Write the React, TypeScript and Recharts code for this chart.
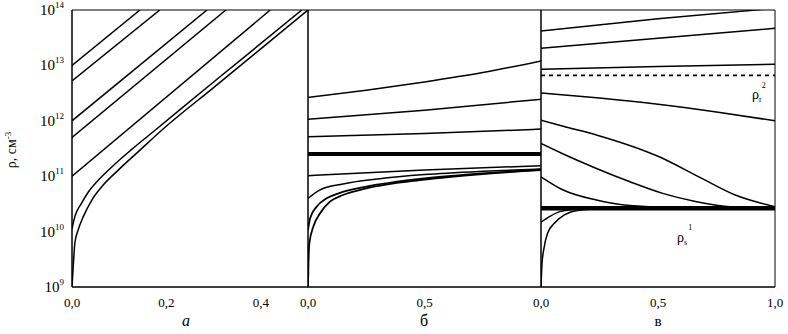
import { LineChart, Line, XAxis, YAxis, ReferenceArea } from 'recharts';

type Pt = [number, number];

const font = '"Liberation Serif", "DejaVu Serif", serif';

// y values are lg(ρ), ρ in см^-3
const yTicks = [9, 10, 11, 12, 13, 14];

// panel а, x 0..0.5
const aTicksX = [0, 0.2, 0.4];
const a1: Pt[] = [[0, 13], [0.144, 14]];
const a2: Pt[] = [[0, 12.72], [0.186, 14]];
const a3: Pt[] = [[0, 12.0], [0.286, 14]];
const a4: Pt[] = [[0, 11.7], [0.326, 14]];
const a5: Pt[] = [[0, 11.0], [0.42, 14]];
const aUpper: Pt[] = [
  [0, 10.05], [0.006, 10.27], [0.02, 10.51], [0.035, 10.72], [0.056, 10.93],
  [0.091, 11.22], [0.126, 11.48], [0.176, 11.83], [0.3, 12.7], [0.487, 14],
];
const aLower: Pt[] = [
  [0, 9], [0.003, 9.43], [0.006, 9.79], [0.013, 10.03], [0.024, 10.27],
  [0.042, 10.57], [0.063, 10.81], [0.098, 11.11], [0.14, 11.44], [0.19, 11.83],
  [0.3, 12.6], [0.5, 14],
];

// panel б, x 0..1
const bTicksX = [0, 0.5];
const b1: Pt[] = [[0, 12.42], [0.25, 12.55], [0.5, 12.7], [0.75, 12.87], [1, 13.08]];
const b2: Pt[] = [[0, 12.03], [0.5, 12.19], [1, 12.39]];
const b3: Pt[] = [[0, 11.71], [0.5, 11.77], [1, 11.85]];
const bThick: Pt[] = [[0, 11.4], [1, 11.4]];
const b4: Pt[] = [[0, 11.01], [0.5, 11.11], [1, 11.19]];
const b5: Pt[] = [[0, 10.6], [0.05, 10.75], [0.15, 10.86], [0.3, 10.95], [0.5, 11.03], [0.75, 11.09], [1, 11.13]];
const b6: Pt[] = [
  [0, 10.03], [0.009, 10.24], [0.037, 10.45], [0.08, 10.6], [0.137, 10.7],
  [0.25, 10.81], [0.5, 10.96], [0.75, 11.05], [1, 11.12],
];
const b7: Pt[] = [
  [0, 9], [0.002, 9.43], [0.006, 9.79], [0.023, 10.09], [0.052, 10.33], [0.094, 10.54],
  [0.15, 10.66], [0.25, 10.78], [0.5, 10.94], [0.75, 11.04], [1, 11.11],
];

// panel в, x 0..1
const cTicksX = [0, 0.5, 1];
const c1: Pt[] = [[0, 13.62], [0.5, 13.84], [1, 14.03]];
const c2: Pt[] = [[0, 13.31], [0.5, 13.49], [1, 13.67]];
const c3: Pt[] = [[0, 12.93], [0.5, 12.98], [1, 13.02]];
const cDotted: Pt[] = [[0, 12.82], [1, 12.82]];
const c4: Pt[] = [[0, 12.5], [0.25, 12.41], [0.5, 12.3], [0.75, 12.16], [1, 12.0]];
const c5: Pt[] = [[0, 12.01], [0.095, 11.9], [0.24, 11.74], [0.505, 11.35], [0.687, 10.96], [0.83, 10.66], [1, 10.45]];
const c6: Pt[] = [[0, 11.59], [0.095, 11.4], [0.237, 11.14], [0.38, 10.9], [0.52, 10.69], [0.665, 10.54], [0.81, 10.45], [1, 10.43]];
const c7: Pt[] = [[0, 10.99], [0.095, 10.75], [0.237, 10.57], [0.38, 10.47], [0.6, 10.43], [1, 10.42]];
const cThick: Pt[] = [[0, 10.42], [1, 10.42]];
const c8: Pt[] = [[0, 10.17], [0.04, 10.28], [0.08, 10.36], [0.14, 10.4], [0.25, 10.42]];
const c9: Pt[] = [[0, 9], [0.004, 9.4], [0.014, 9.73], [0.028, 9.97], [0.057, 10.15], [0.1, 10.3], [0.17, 10.39], [0.3, 10.42]];

type Series = { pts: Pt[]; w?: number; curve?: boolean; dash?: string };

const aSeries: Series[] = [
  { pts: a1 }, { pts: a2 }, { pts: a3 }, { pts: a4 }, { pts: a5 },
  { pts: aUpper, curve: true }, { pts: aLower, curve: true },
];
const bSeries: Series[] = [
  { pts: b1, curve: true }, { pts: b2, curve: true }, { pts: b3, curve: true },
  { pts: bThick, w: 4 }, { pts: b4, curve: true }, { pts: b5, curve: true },
  { pts: b6, curve: true, w: 1.8 }, { pts: b7, curve: true, w: 1.8 },
];
const cSeries: Series[] = [
  { pts: c1, curve: true }, { pts: c2, curve: true }, { pts: c3, curve: true },
  { pts: cDotted, w: 1.6, dash: '4 4' }, { pts: c4, curve: true }, { pts: c5, curve: true },
  { pts: c6, curve: true }, { pts: c7, curve: true }, { pts: cThick, w: 4.5 },
  { pts: c8, curve: true }, { pts: c9, curve: true },
];

const toData = (pts: Pt[]) => pts.map(([x, y]) => ({ x, y }));
const fmt = (v: number) => v.toFixed(1).replace('.', ',');

const PowerTick = (props: any) => {
  const { x, y, payload } = props;
  return (
    <text x={x} y={y + 5} textAnchor="end" fontFamily={font} fontSize={15} fill="#000">
      10
      <tspan dy={-7} fontSize={9}>{payload.value}</tspan>
    </text>
  );
};

const Blank = () => <g />;

function Panel({ left, width, marginLeft, marginRight, domain, ticks, series, labelled }: {
  left: number; width: number; marginLeft: number; marginRight: number;
  domain: [number, number]; ticks: number[]; series: Series[]; labelled?: boolean;
}) {
  return (
    <div style={{ position: 'absolute', left, top: 0 }}>
      <LineChart width={width} height={334} margin={{ top: 10, right: marginRight, bottom: 17, left: marginLeft }}>
        <XAxis
          type="number"
          dataKey="x"
          domain={domain}
          ticks={ticks}
          interval={0}
          allowDataOverflow
          height={30}
          tickLine={false}
          tickMargin={5}
          axisLine
          stroke="#000"
          tick={{ fill: '#000', fontSize: 13, fontFamily: font }}
          tickFormatter={fmt}
        />
        {labelled ? (
          <YAxis
            type="number"
            domain={[9, 14]}
            ticks={yTicks}
            allowDataOverflow
            width={60}
            tickLine={false}
            axisLine
            stroke="#000"
            tick={<PowerTick />}
          />
        ) : (
          <YAxis
            type="number"
            domain={[9, 14]}
            ticks={yTicks}
            allowDataOverflow
            mirror
            width={0}
            tickSize={6}
            tickLine
            axisLine
            stroke="#000"
            tick={<Blank />}
          />
        )}
        <ReferenceArea
          x1={domain[0]}
          x2={domain[1]}
          y1={9}
          y2={14}
          fill="none"
          fillOpacity={0}
          stroke="#000"
          strokeWidth={1}
          strokeOpacity={1}
        />
        {series.map((s, i) => (
          <Line
            key={i}
            data={toData(s.pts)}
            dataKey="y"
            type={s.curve ? 'monotone' : 'linear'}
            stroke="#000"
            strokeWidth={s.w ?? 1.5}
            strokeDasharray={s.dash}
            dot={false}
            activeDot={false}
            isAnimationActive={false}
          />
        ))}
      </LineChart>
    </div>
  );
}

export default function App() {
  return (
    <div style={{ position: 'absolute', left: 0, top: 0, width: 788, height: 334, background: '#fff' }}>
      <Panel left={0} width={320} marginLeft={12} marginRight={12} domain={[0, 0.5]} ticks={aTicksX} series={aSeries} labelled />
      <Panel left={298} width={253} marginLeft={10} marginRight={10} domain={[0, 1]} ticks={bTicksX} series={bSeries} />
      <Panel left={531} width={257} marginLeft={10} marginRight={13} domain={[0, 1]} ticks={cTicksX} series={cSeries} />
      <svg width={788} height={334} style={{ position: 'absolute', left: 0, top: 0, pointerEvents: 'none' }}>
        <text x={16} y={150} transform="rotate(-90 16 150)" textAnchor="middle" fontFamily={font} fontSize={14}>
          ρ, см<tspan dy={-5} fontSize={9}>-3</tspan>
        </text>
        <text x={186} y={326} textAnchor="middle" fontFamily={font} fontSize={16} fontStyle="italic">а</text>
        <text x={424} y={326} textAnchor="middle" fontFamily={font} fontSize={16}>б</text>
        <text x={658} y={326} textAnchor="middle" fontFamily={font} fontSize={15}>в</text>
        <text x={752} y={99} fontFamily={font} fontSize={14}>
          ρ<tspan dy={3} fontSize={8}>r</tspan><tspan dy={-14} fontSize={8}>2</tspan>
        </text>
        <text x={677} y={242} fontFamily={font} fontSize={14}>
          ρ<tspan dy={3} fontSize={8}>s</tspan><tspan dx={1} dy={-15} fontSize={8}>1</tspan>
        </text>
      </svg>
    </div>
  );
}
